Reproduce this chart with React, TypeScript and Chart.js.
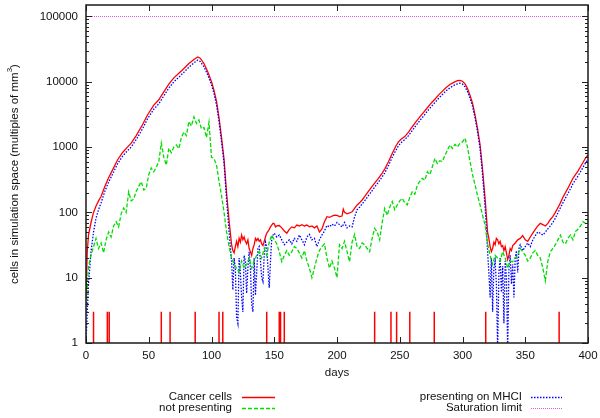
import React, { useEffect, useRef } from "react";
import { Chart, registerables } from "chart.js";
Chart.register(...registerables);

const FONT = "'Liberation Sans', Arial, Helvetica, sans-serif";

// Cancer cells (red)
const redDays = [0,1,2,4,6,8,10,12,15,18,21,25,29,33,36,40,45,49,54,58,62,66,70,74,78,82,86,89,91,94,97,100,102,104,106,108,110,112,114,116,117,118,119,120,121,122,123,124,125,126,127,128,129,130,131,132,133,134,135,136,137,138,139,140,141,142,143,144,145,146,147,148,149,150,151,152,154,156,158,160,162,164,166,168,170,172,174,176,178,180,182,184,186,188,190,192,194,196,198,200,202,204,205,206,208,210,212,214,216,218,220,222,225,228,230,233,236,238,241,244,247,249,251,254,257,260,263,266,269,272,275,278,281,284,287,290,293,296,298,300,302,304,306,308,310,312,314,316,318,319,320,321,322,323,324,325,326,327,328,329,330,331,332,333,334,335,336,337,338,339,340,342,344,346,348,350,352,354,356,358,360,362,364,366,368,370,372,374,376,378,380,382,384,386,388,390,392,394,396,398,400];
const redVals = [5,25,45,70,100,125,150,175,250,340,440,630,820,1000,1150,1500,2200,3100,4400,5300,7000,9200,11500,13500,16000,19000,22000,24000,23000,19000,14300,10000,7400,5000,2800,1400,650,200,75,32,26,24,30,36,30,40,35,45,38,42,36,33,38,28,25,22,28,32,40,37,40,36,38,33,31,36,42,48,51,55,60,64,68,67,60,62,63,58,52,48,55,60,58,64,62,65,62,64,60,62,58,62,50,56,72,86,84,88,91,90,86,88,112,100,95,98,102,115,130,140,155,174,210,250,280,333,400,460,598,800,1050,1200,1320,1450,1700,2050,2450,2900,3400,4000,4700,5400,6300,7200,8200,9100,9800,10400,10500,10200,9300,7900,6200,4700,3100,1900,1080,450,164,90,50,40,30,25,28,35,32,40,38,33,36,30,31,26,30,24,19,22,28,26,31,34,38,40,44,38,36,42,48,55,62,68,65,62,68,78,86,100,118,140,170,200,235,280,333,380,430,500,580,680,760];

// presenting on MHCI (blue)
const blueDays = [0,1,2,3,4,6,8,10,12,15,18,21,25,29,33,36,40,45,49,54,58,62,66,70,74,78,82,86,89,91,94,97,100,102,104,106,108,110,112,114,115,116,117,118,119,120,121,122,123,124,125,126,127,128,129,130,131,132,133,134,135,136,137,138,139,140,141,142,143,144,145,146,147,148,149,150,152,154,156,158,160,162,164,166,168,170,172,174,176,178,180,182,184,186,188,190,192,194,196,198,200,202,204,206,208,210,212,214,216,218,220,222,225,228,230,233,236,238,241,244,247,249,251,254,257,260,263,266,269,272,275,278,281,284,287,290,293,296,298,300,302,304,306,308,310,312,314,316,318,319,320,321,322,323,324,325,326,327,328,329,330,331,332,333,334,335,336,337,338,339,340,341,342,343,344,345,346,348,350,352,354,356,358,360,362,364,366,368,370,372,374,376,378,380,382,384,386,388,390,392,394,396,398,400];
const blueVals = [1,3,8,14,25,50,82,110,140,210,290,380,550,720,880,1000,1300,1900,2700,3800,4600,6100,8000,10000,11800,14000,16800,19500,21500,20500,17000,12800,9000,6600,4400,2500,1200,560,160,50,30,18,6.5,20,14,2.5,2.0,20,12,5,3.0,22,18,5.8,14,25,14,4,3.0,20,5.4,12,28,30,18,10,8.7,22,35,30,14,7,18,40,45,48,42,45,38,32,35,38,33,40,36,45,38,32,42,46,38,40,30,38,45,52,63,60,66,62,70,65,60,70,58,62,60,85,110,120,135,150,180,215,245,290,350,400,520,700,900,1050,1170,1300,1500,1800,2150,2550,3000,3550,4150,4800,5600,6400,7300,8100,8800,9300,9500,9200,8400,7100,5600,4200,2800,1700,950,380,120,60,25,12,5,20,3,14,18,8,0.8,12,20,6,15,2,18,10,0.8,14,22,8,16,5,20,26,12,28,32,26,30,34,30,38,44,50,48,45,50,56,62,70,82,98,118,140,165,195,230,275,315,360,420,490,570,650];

// not presenting (green)
const greenDays = [0,2,4,6,8,10,12,14,16,18,20,22,24,26,28,30,32,34,36,38,40,42,44,46,48,50,52,54,56,58,60,62,64,66,68,70,72,74,76,78,80,82,84,86,88,90,92,94,96,98,100,102,104,106,108,110,112,114,116,118,120,122,124,126,128,130,132,134,136,138,140,142,144,146,148,150,152,154,156,158,160,162,164,166,168,170,172,174,176,178,180,182,184,186,188,190,192,194,196,198,200,202,204,206,208,210,212,214,216,218,220,222,224,226,228,230,232,234,236,238,240,242,244,246,248,250,252,254,256,258,260,262,264,266,268,270,272,274,276,278,280,282,284,286,288,290,292,294,296,298,300,302,304,306,308,310,312,314,316,318,320,322,324,326,328,330,332,334,336,338,340,342,344,346,348,350,352,354,356,358,360,362,364,366,368,370,372,374,376,378,380,382,384,386,388,390,392,394,396,398,400];
const greenVals = [3,15,22,30,40,28,34,24,38,50,42,62,72,60,95,117,100,207,150,160,210,250,295,220,235,380,480,420,490,600,1150,700,530,960,820,1000,1080,950,1400,1700,1500,2460,2100,2900,2300,2600,1900,2000,1400,2400,700,670,530,300,180,100,50,30,20,16,14,12,18,14,16,20,14,18,22,25,20,28,22,35,45,38,33,25,17.6,22,26,22,25,30,28,24,20,26,18,14,10,14,20,26,30,33,20,14,18,14,10,32,28,36,25,17.6,35,46,30,28,34,32,28,25,40,57,50,38,70,115,90,120,146,110,130,150,164,140,130,170,207,190,260,300,333,310,420,380,500,670,560,620,600,750,900,1080,950,1100,1000,1150,1200,1370,1000,600,380,263,180,130,90,64,33,22,16,22,20,18,25,20,14,18,17.6,20,22,28,25,22,18,20,24,26,22,20,14,9,18,25,28,32,38,45,35,33,40,45,38,51,55,62,72,68,75];

// Saturation limit
const limitDays = [0, 400];
const limitVals = [100000, 100000];

// treatment event marks (days), drawn from 1 to 3
const eventDays = [6,17,18.5,60,67,87,106,109,144,154,155,158,230,243,247.5,258,277.5,318.5,377];
const eventLow = 1;
const eventHigh = 3;

const xTicks = [0,50,100,150,200,250,300,350,400];
const yTicks = [1,10,100,1000,10000,100000];

const pts = (d: number[], v: number[]) => d.map((x, i) => ({ x, y: v[i] }));

const RED = "#ff0000";
const GREEN = "#00dd00";
const BLUE = "#0000ff";
const MAGENTA = "#f050f0";

export default function App() {
  const ref = useRef<HTMLCanvasElement | null>(null);
  useEffect(() => {
    if (!ref.current) return;
    const eventData: any[] = [];
    eventDays.forEach((d) => {
      eventData.push({ x: d, y: eventLow }, { x: d, y: eventHigh }, { x: d, y: null });
    });
    const framePlugin = {
      id: "frame",
      afterDatasetsDraw(chart: any) {
        const { ctx, chartArea: a, scales } = chart;
        const xs = scales.x, ys = scales.y;
        ctx.save();
        ctx.strokeStyle = "#222";
        ctx.lineWidth = 1;
        const maj = 6, min = 3;
        ctx.beginPath();
        xTicks.forEach((v) => {
          const px = Math.round(xs.getPixelForValue(v)) + 0.5;
          ctx.moveTo(px, a.bottom); ctx.lineTo(px, a.bottom - maj);
          ctx.moveTo(px, a.top); ctx.lineTo(px, a.top + maj);
        });
        for (let d = 1; d <= 100000; d *= 10) {
          for (let m = 1; m <= 9; m++) {
            const v = d * m;
            if (v > ys.max) continue;
            const len = m === 1 ? maj : min;
            const py = Math.round(ys.getPixelForValue(v)) + 0.5;
            ctx.moveTo(a.left, py); ctx.lineTo(a.left + len, py);
            ctx.moveTo(a.right, py); ctx.lineTo(a.right - len, py);
          }
        }
        ctx.stroke();
        ctx.lineWidth = 1.5;
        ctx.strokeStyle = "#1a1a1a";
        ctx.strokeRect(a.left, a.top, a.right - a.left, a.bottom - a.top);
        ctx.restore();
      },
      afterDraw(chart: any) {
        const { ctx, chartArea: a, scales } = chart;
        ctx.save();
        ctx.fillStyle = "#111";
        ctx.font = `11.5px ${FONT}`;
        ctx.textBaseline = "middle";
        ctx.textAlign = "center";
        xTicks.forEach((v) => ctx.fillText(String(v), scales.x.getPixelForValue(v), a.bottom + 13));
        ctx.textAlign = "right";
        yTicks.forEach((v) => ctx.fillText(String(v), a.left - 8, scales.y.getPixelForValue(v)));
        ctx.textAlign = "center";
        ctx.fillText("days", (a.left + a.right) / 2, 373);
        ctx.save();
        ctx.translate(15, (a.top + a.bottom) / 2);
        ctx.rotate(-Math.PI / 2);
        const main = "cells in simulation space (multiples of mm";
        ctx.font = `11.5px ${FONT}`;
        const w1 = ctx.measureText(main).width;
        ctx.font = `8px ${FONT}`;
        const w2 = ctx.measureText("3").width;
        ctx.font = `11.5px ${FONT}`;
        const w3 = ctx.measureText(")").width;
        const total = w1 + w2 + w3;
        const x0 = -total / 2;
        ctx.textAlign = "left";
        ctx.fillText(main, x0, 0);
        ctx.font = `8px ${FONT}`;
        ctx.fillText("3", x0 + w1, -5);
        ctx.font = `11.5px ${FONT}`;
        ctx.fillText(")", x0 + w1 + w2, 0);
        ctx.restore();
        const entries = [
          { t: "Cancer cells", c: RED, dash: [] as number[], w: 1.3, tx: 232, x1: 242, x2: 275, y: 397 },
          { t: "not presenting", c: GREEN, dash: [4, 2], w: 1.3, tx: 232, x1: 242, x2: 275, y: 408 },
          { t: "presenting on MHCI", c: BLUE, dash: [1.5, 1.5], w: 1.3, tx: 522, x1: 531, x2: 562, y: 397 },
          { t: "Saturation limit", c: MAGENTA, dash: [1, 1], w: 1, tx: 522, x1: 531, x2: 562, y: 408 },
        ];
        entries.forEach((e) => {
          ctx.fillStyle = "#111";
          ctx.textAlign = "right";
          ctx.font = `11.5px ${FONT}`;
          ctx.fillText(e.t, e.tx, e.y);
          ctx.strokeStyle = e.c;
          ctx.lineWidth = e.w;
          ctx.setLineDash(e.dash);
          ctx.beginPath();
          ctx.moveTo(e.x1, e.y + 0.5);
          ctx.lineTo(e.x2, e.y + 0.5);
          ctx.stroke();
        });
        ctx.restore();
      },
    };
    const chart = new Chart(ref.current, {
      type: "line",
      data: {
        datasets: [
          { label: "not presenting", data: pts(greenDays, greenVals), borderColor: GREEN, borderWidth: 1.3, borderDash: [4, 2], pointRadius: 0, tension: 0 },
          { label: "presenting on MHCI", data: pts(blueDays, blueVals), borderColor: BLUE, borderWidth: 1.3, borderDash: [1.5, 1.5], pointRadius: 0, tension: 0 },
          { label: "Cancer cells", data: pts(redDays, redVals), borderColor: RED, borderWidth: 1.3, pointRadius: 0, tension: 0 },
          { label: "Saturation limit", data: pts(limitDays, limitVals), borderColor: MAGENTA, borderWidth: 1, borderDash: [1, 1], pointRadius: 0 },
          { label: "events", data: eventData, borderColor: RED, borderWidth: 1.5, pointRadius: 0, spanGaps: false },
        ],
      },
      options: {
        animation: false,
        responsive: false,
        maintainAspectRatio: false,
        layout: { padding: { left: 0, top: 5, right: 12, bottom: 0 } },
        plugins: { legend: { display: false }, tooltip: { enabled: false } },
        scales: {
          x: {
            type: "linear",
            min: 0,
            max: 400,
            afterBuildTicks: (s: any) => { s.ticks = xTicks.map((v) => ({ value: v })); },
            afterFit: (s: any) => { s.height = 75; },
            grid: { display: false, drawTicks: false },
            border: { display: false },
            ticks: { display: false },
          },
          y: {
            type: "logarithmic",
            min: 1,
            max: 150000,
            afterBuildTicks: (s: any) => { s.ticks = yTicks.map((v) => ({ value: v })); },
            afterFit: (s: any) => { s.width = 86; },
            grid: { display: false, drawTicks: false },
            border: { display: false },
            ticks: { display: false },
          },
        },
      },
      plugins: [framePlugin],
    });
    return () => chart.destroy();
  }, []);
  return (
    <div style={{ position: "fixed", left: 0, top: 0, width: 600, height: 418, background: "#fff" }}>
      <canvas ref={ref} width={600} height={418} style={{ width: 600, height: 418 }} />
    </div>
  );
}
